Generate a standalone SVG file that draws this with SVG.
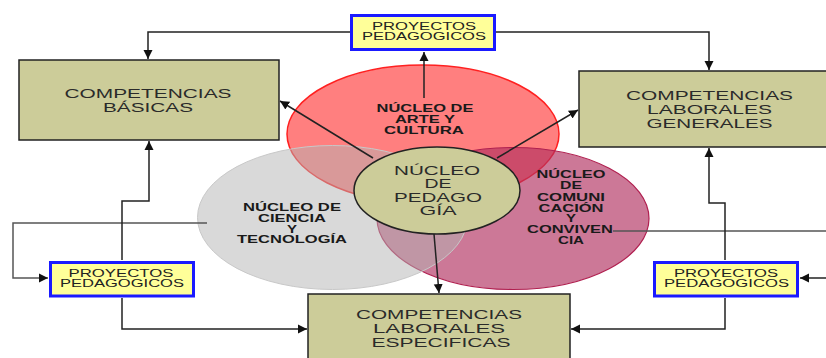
<svg xmlns="http://www.w3.org/2000/svg" width="826" height="358" viewBox="0 0 826 358">
<defs>
<marker id="ah" viewBox="0 0 10 10" refX="10" refY="5" markerWidth="9" markerHeight="10" markerUnits="userSpaceOnUse" orient="auto">
<path d="M0,0 L10,5 L0,10 z" fill="#111"/>
</marker>
<style>
.box{fill:#cccc99;stroke:#222;stroke-width:1.5}
.proj{fill:#ffff99;stroke:#1a1aff;stroke-width:3}
.bt{font-family:"Liberation Sans",Arial,sans-serif;font-size:12.5px;fill:#2a2a2a;text-anchor:middle}
.pt{font-family:"Liberation Sans",Arial,sans-serif;font-size:10px;fill:#222;text-anchor:middle}
.nt{font-family:"Liberation Sans",Arial,sans-serif;font-size:10px;font-weight:bold;fill:#1a1a1a;text-anchor:middle}
.ct{font-family:"Liberation Sans",Arial,sans-serif;font-size:12.5px;fill:#2a2a2a;text-anchor:middle}
.c{fill:none;stroke:#222;stroke-width:1.5}
.g{fill:none;stroke:#555;stroke-width:1.5}
</style>
</defs>
<rect width="826" height="358" fill="#ffffff"/>

<g id="nucleo-arte">
<ellipse cx="423" cy="134" rx="136" ry="69" fill="#ff0000" fill-opacity="0.5" stroke="#ff2020" stroke-width="1.5"/>
</g>
<g id="nucleo-comunicacion">
<ellipse cx="513" cy="218.5" rx="136" ry="71" fill="#b03060" fill-opacity="0.65" stroke="#b02050" stroke-width="1.2"/>
</g>
<g id="nucleo-ciencia">
<ellipse cx="332.5" cy="217.5" rx="135" ry="72" fill="#b3b3b3" fill-opacity="0.5" stroke="#c8c8c8" stroke-width="1"/>
</g>

<g id="t-arte">
<text class="nt" x="425" y="112" textLength="97" lengthAdjust="spacingAndGlyphs">NÚCLEO DE</text>
<text class="nt" x="425" y="123" textLength="60" lengthAdjust="spacingAndGlyphs">ARTE Y</text>
<text class="nt" x="424" y="133.5" textLength="80" lengthAdjust="spacingAndGlyphs">CULTURA</text>
</g>
<g id="t-ciencia">
<text class="nt" x="292" y="211" textLength="98" lengthAdjust="spacingAndGlyphs">NÚCLEO DE</text>
<text class="nt" x="292" y="222" textLength="68" lengthAdjust="spacingAndGlyphs">CIENCIA</text>
<text class="nt" x="292" y="232.5" textLength="10" lengthAdjust="spacingAndGlyphs">Y</text>
<text class="nt" x="292" y="243" textLength="110" lengthAdjust="spacingAndGlyphs">TECNOLOGÍA</text>
</g>
<g id="t-comunicacion">
<text class="nt" x="571" y="178" textLength="69" lengthAdjust="spacingAndGlyphs">NÚCLEO</text>
<text class="nt" x="571" y="189" textLength="22" lengthAdjust="spacingAndGlyphs">DE</text>
<text class="nt" x="571" y="200.5" textLength="68" lengthAdjust="spacingAndGlyphs">COMUNI</text>
<text class="nt" x="571" y="211.5" textLength="65" lengthAdjust="spacingAndGlyphs">CACIÓN</text>
<text class="nt" x="571" y="222" textLength="10" lengthAdjust="spacingAndGlyphs">Y</text>
<text class="nt" x="570" y="233" textLength="86" lengthAdjust="spacingAndGlyphs">CONVIVEN</text>
<text class="nt" x="571" y="243.5" textLength="26" lengthAdjust="spacingAndGlyphs">CIA</text>
</g>

<g id="connectors">
<path class="c" d="M350,32 H148 V59" marker-end="url(#ah)"/>
<path class="c" d="M496,32 H709 V70" marker-end="url(#ah)"/>
<path class="c" d="M424,98 V52" marker-end="url(#ah)"/>
<path class="c" d="M373,158 L280,101" marker-end="url(#ah)"/>
<path class="c" d="M497,158 L578,110" marker-end="url(#ah)"/>
<path class="c" d="M434,234 L439,293" marker-end="url(#ah)"/>
<path class="g" d="M207,223 H13 V278 H48" marker-end="url(#ah)"/>
<path class="c" d="M122,260 V201 H149 V141" marker-end="url(#ah)"/>
<path class="c" d="M122,298 V329 H307" marker-end="url(#ah)"/>
<path class="g" d="M613,231 H826"/>
<path class="c" d="M826,278 H800" marker-end="url(#ah)"/>
<path class="c" d="M725,260 V203 H709 V148" marker-end="url(#ah)"/>
<path class="c" d="M725,298 V329 H571" marker-end="url(#ah)"/>
</g>

<g id="nucleo-pedagogia">
<ellipse cx="437" cy="190.5" rx="83" ry="43.5" fill="#cccc99" stroke="#222" stroke-width="1.5"/>
<text class="ct" x="437" y="174.5" textLength="86" lengthAdjust="spacingAndGlyphs">NÚCLEO</text>
<text class="ct" x="438" y="188" textLength="27" lengthAdjust="spacingAndGlyphs">DE</text>
<text class="ct" x="438" y="201.5" textLength="88" lengthAdjust="spacingAndGlyphs">PEDAGO</text>
<text class="ct" x="438" y="215" textLength="37" lengthAdjust="spacingAndGlyphs">GÍA</text>
</g>

<g id="competencias-basicas">
<rect class="box" x="19" y="60" width="260" height="80"/>
<text class="bt" x="148" y="97.5" textLength="167" lengthAdjust="spacingAndGlyphs">COMPETENCIAS</text>
<text class="bt" x="148" y="111.5" textLength="90" lengthAdjust="spacingAndGlyphs">BÁSICAS</text>
</g>
<g id="competencias-laborales-generales">
<rect class="box" x="579" y="71" width="260" height="76"/>
<text class="bt" x="709.5" y="100" textLength="167" lengthAdjust="spacingAndGlyphs">COMPETENCIAS</text>
<text class="bt" x="709.5" y="114" textLength="125" lengthAdjust="spacingAndGlyphs">LABORALES</text>
<text class="bt" x="709.5" y="128" textLength="126" lengthAdjust="spacingAndGlyphs">GENERALES</text>
</g>
<g id="competencias-laborales-especificas">
<rect class="box" x="308" y="294" width="262" height="80"/>
<text class="bt" x="439" y="318.5" textLength="166" lengthAdjust="spacingAndGlyphs">COMPETENCIAS</text>
<text class="bt" x="439" y="332.5" textLength="132" lengthAdjust="spacingAndGlyphs">LABORALES</text>
<text class="bt" x="441" y="346.5" textLength="139" lengthAdjust="spacingAndGlyphs">ESPECIFICAS</text>
</g>

<g id="proyectos-top">
<rect class="proj" x="351.5" y="15.5" width="143" height="34"/>
<text class="pt" x="424" y="30" textLength="104" lengthAdjust="spacingAndGlyphs">PROYECTOS</text>
<text class="pt" x="424" y="40" textLength="124" lengthAdjust="spacingAndGlyphs">PEDAGOGICOS</text>
</g>
<g id="proyectos-left">
<rect class="proj" x="50.5" y="262.5" width="143" height="33.5"/>
<text class="pt" x="121" y="276.5" textLength="105" lengthAdjust="spacingAndGlyphs">PROYECTOS</text>
<text class="pt" x="122" y="286.5" textLength="124" lengthAdjust="spacingAndGlyphs">PEDAGOGICOS</text>
</g>
<g id="proyectos-right">
<rect class="proj" x="654.5" y="262.5" width="143" height="33.5"/>
<text class="pt" x="726" y="276.5" textLength="104" lengthAdjust="spacingAndGlyphs">PROYECTOS</text>
<text class="pt" x="726.5" y="286.5" textLength="125" lengthAdjust="spacingAndGlyphs">PEDAGOGICOS</text>
</g>
</svg>
